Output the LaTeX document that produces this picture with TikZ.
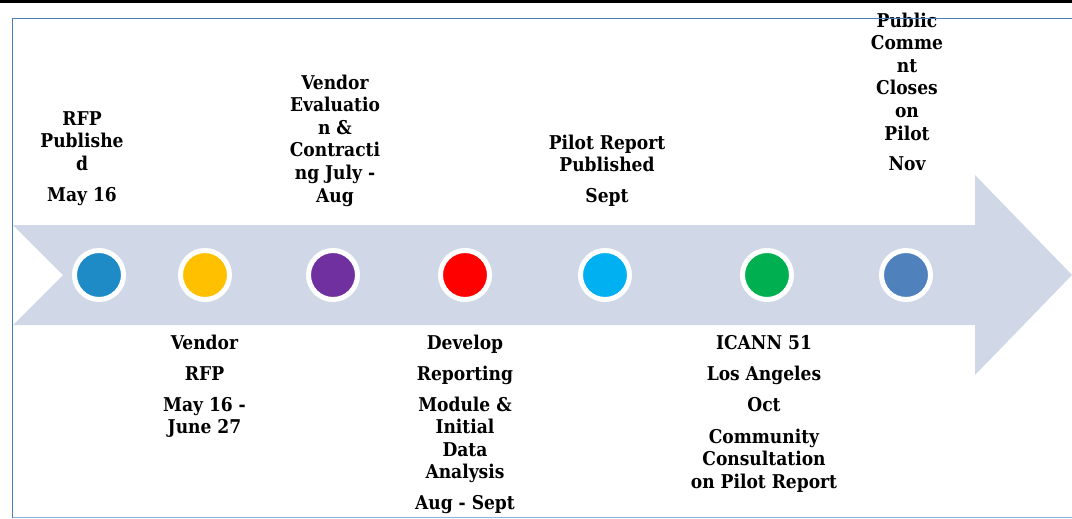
\documentclass[tikz,border=0pt]{standalone}
\usepackage{fontspec}
\newfontfamily\lblfont{DejaVu Serif Condensed}
\definecolor{arrowfill}{HTML}{D0D8E8}
\definecolor{frameblue}{HTML}{4A7EBB}
\definecolor{framelight}{HTML}{8DB3E2}
\definecolor{cA}{HTML}{1E8BC7}
\definecolor{cB}{HTML}{FFC000}
\definecolor{cC}{HTML}{7030A0}
\definecolor{cD}{HTML}{FF0000}
\definecolor{cE}{HTML}{00B0F0}
\definecolor{cF}{HTML}{00B050}
\definecolor{cG}{HTML}{4F81BD}
\begin{document}
\begin{tikzpicture}[x=1pt,y=-1pt,
  lbl/.style={font=\lblfont\bfseries\fontsize{19}{22.6}\selectfont, align=center, inner sep=0pt, anchor=north},
  dot/.style={circle, draw=white, line width=5pt, minimum size=49pt, inner sep=0pt}]
\useasboundingbox (0,0) rectangle (1072,519);
% arrow
\fill[arrowfill] (13,225) -- (975,225) -- (975,175) -- (1072,275) -- (975,375)
  -- (975,325) -- (13,325) -- (63,275) -- cycle;
% dots
\node[dot, fill=cA] (d1) at (99,275) {};
\node[dot, fill=cB] (d2) at (205,275) {};
\node[dot, fill=cC] (d3) at (333,275) {};
\node[dot, fill=cD] (d4) at (465,275) {};
\node[dot, fill=cE] (d5) at (605,275) {};
\node[dot, fill=cF] (d6) at (767,275) {};
\node[dot, fill=cG] (d7) at (906,275) {};
% labels above
\node[lbl] (t1) at (82,109) {\strut RFP\\Publishe\\d\\[8.4pt]May 16};
\node[lbl] (t2) at (335,73) {\strut Vendor\\Evaluatio\\n \&\\Contracti\\ng July -\\Aug};
\node[lbl] (t3) at (607,133) {\strut Pilot Report\\Published\\[8pt]Sept};
\node[lbl] (t4) at (907,11) {\strut Public\\Comme\\nt\\Closes\\on\\Pilot\\[7.5pt]Nov};
% labels below
\node[lbl] (b1) at (204.5,333) {\strut Vendor\\[8.4pt]RFP\\[8.4pt]May 16 -\\June 27};
\node[lbl] (b2) at (465,333) {\strut Develop\\[8.4pt]Reporting\\[8.4pt]Module \&\\Initial\\Data\\Analysis\\[8.4pt]Aug - Sept};
\node[lbl] (b3) at (764,333) {\strut ICANN 51\\[8.4pt]Los Angeles\\[8.4pt]Oct\\[9.4pt]Community\\Consultation\\on Pilot Report};
% frame
\draw[line width=3pt] (0,1.5) -- (1072,1.5);
\draw[frameblue, line width=1.3pt] (12.7,517.5) -- (12.7,18.3) -- (1072,18.3);
\draw[framelight, line width=1.3pt] (12.7,517.5) -- (1072,517.5);
\end{tikzpicture}
\end{document}
